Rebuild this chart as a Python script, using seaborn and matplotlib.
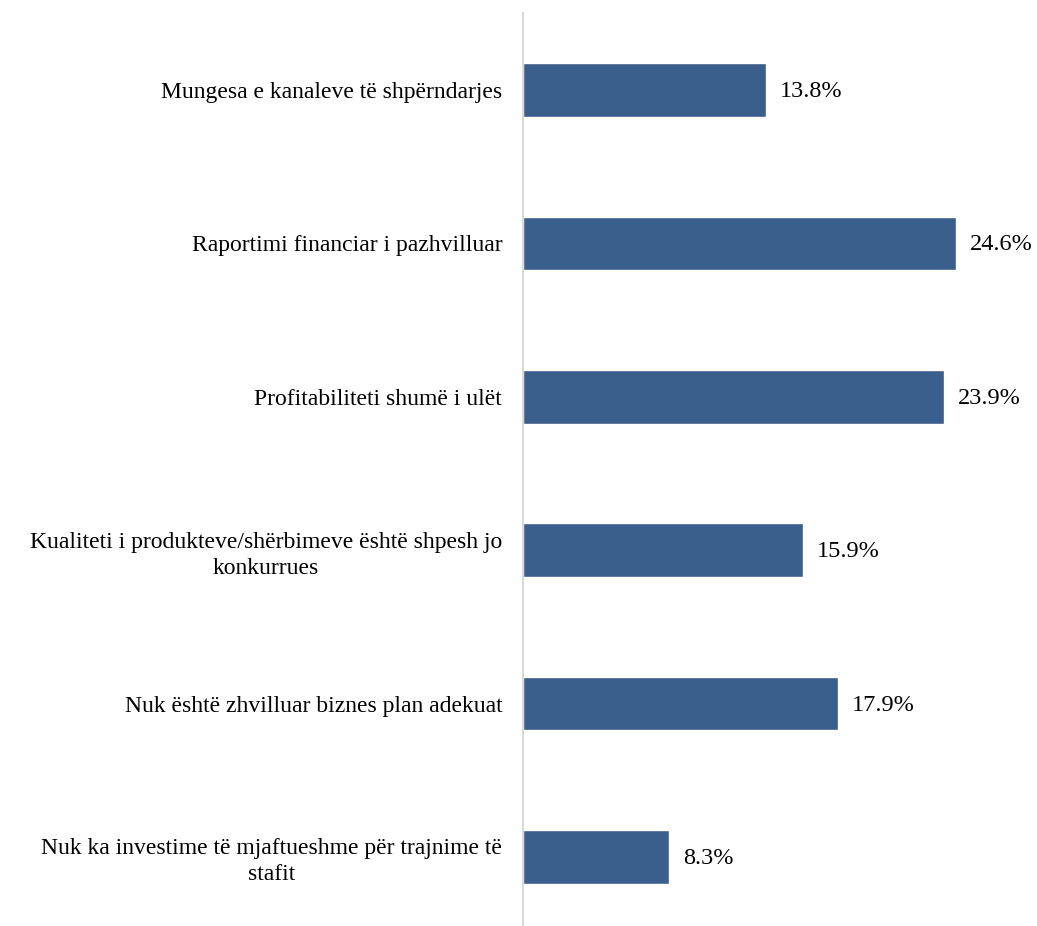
import matplotlib
matplotlib.use("Agg")
import matplotlib.pyplot as plt
import seaborn as sns
import pandas as pd

sns.set_style("white")
plt.rcParams["font.family"] = ["Liberation Serif", "DejaVu Serif"]

# Pengesat dhe përqindjet
categories = [
    "Mungesa e kanaleve të shpërndarjes",
    "Raportimi financiar i pazhvilluar",
    "Profitabiliteti shumë i ulët",
    "Kualiteti i produkteve/shërbimeve është shpesh jo\nkonkurrues",
    "Nuk është zhvilluar biznes plan adekuat",
    "Nuk ka investime të mjaftueshme për trajnime të\nstafit",
]
values = [13.8, 24.6, 23.9, 15.9, 17.9, 8.3]
value_labels = ["13.8%", "24.6%", "23.9%", "15.9%", "17.9%", "8.3%"]

df = pd.DataFrame({"kategoria": categories, "vlera": values})

fig = plt.figure(figsize=(10.37, 9.26), dpi=100)
top_px, h_px = 13.3, 920.4
ax = fig.add_axes([523 / 1037, 1 - (top_px + h_px) / 926, (1030 - 523) / 1037, h_px / 926])

sns.barplot(data=df, y="kategoria", x="vlera", orient="h", color="#3b5f8c",
            saturation=1, width=0.35, ax=ax)

ax.set_xlim(0, 28.8)
ax.set_ylim(5.5, -0.5)
ax.set_xlabel("")
ax.set_ylabel("")
ax.set_xticks([])

for i, (v, lab) in enumerate(zip(values, value_labels)):
    ax.text(v + 0.8, i + 0.01, lab, va="center", ha="left", fontsize=17.5, color="black")

ax.tick_params(axis="y", length=0, pad=15, labelsize=17, labelcolor="black")
for t in ax.get_yticklabels():
    t.set_multialignment("center")
    t.set_linespacing(1.3)

for s in ["top", "right", "bottom"]:
    ax.spines[s].set_visible(False)
ax.spines["left"].set_color("#d9d9d9")
ax.spines["left"].set_linewidth(1.5)

fig.savefig("out.png", dpi=100)
